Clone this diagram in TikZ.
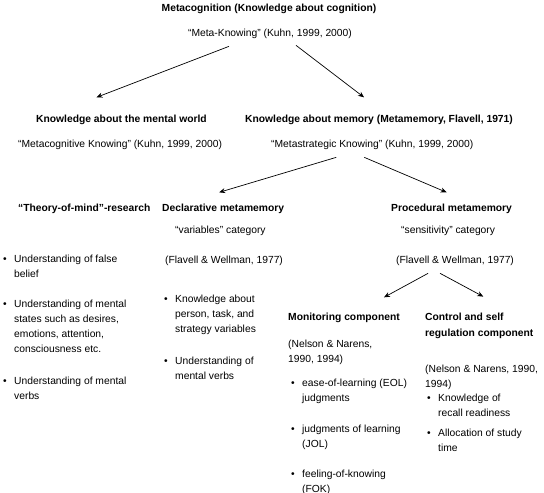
\documentclass[tikz,border=0pt]{standalone}
\usepackage{fontspec}
\setmainfont{Liberation Sans}
\usetikzlibrary{calc,arrows.meta}
\tikzset{
  txt/.style={inner sep=0pt, anchor=base west, font=\fontsize{10.3}{15}\selectfont},
  hd/.style={inner sep=0pt, anchor=base west, font=\fontsize{10.3}{16}\selectfont\bfseries},
  bul/.style={inner sep=0pt, anchor=base, font=\fontsize{10.3}{15}\selectfont},
  arr/.style={-{Stealth[length=6pt,width=5pt]}, line width=0.7pt, black}
}
\newcommand{\mlines}[1]{\begin{tabular}[t]{@{}l@{}}#1\end{tabular}}
\newcommand{\bitem}[4]{%
  \node[bul] (#1b) at (#2-9,#3) {\textbullet};
  \node[txt] (#1) at (#2,#3) {\mlines{#4}};}
\begin{document}
\begin{tikzpicture}[x=1pt,y=-1pt]
\useasboundingbox (0,0) rectangle (544,493);
% top
\node[hd, anchor=base] (top) at (269,11) {Metacognition (Knowledge about cognition)};
\node[txt, anchor=base] (mk) at (270,36) {“Meta-Knowing” (Kuhn, 1999, 2000)};
% level 2
\node[hd] (mw) at (36,122) {Knowledge about the mental world};
\node[txt] (mwk) at (18,147) {“Metacognitive Knowing” (Kuhn, 1999, 2000)};
\node[hd] (mm) at (245,122) {Knowledge about memory (Metamemory, Flavell, 1971)};
\node[txt] (msk) at (271,147) {“Metastrategic Knowing” (Kuhn, 1999, 2000)};
% level 3
\node[hd] (tom) at (18,211) {“Theory-of-mind”-research};
\node[hd] (decl) at (162,211) {Declarative metamemory};
\node[txt] (var) at (175,233) {“variables” category};
\node[txt] (fw1) at (165,263) {(Flavell \& Wellman, 1977)};
\node[hd] (proc) at (391,211) {Procedural metamemory};
\node[txt] (sens) at (401,233) {“sensitivity” category};
\node[txt] (fw2) at (396,263) {(Flavell \& Wellman, 1977)};
% level 4
\node[hd] (mon) at (288,320) {Monitoring component};
\node[hd] (ctrl) at (425,320) {\mlines{Control and self\\regulation component}};
\node[txt] (nn1) at (288,347) {\mlines{(Nelson \& Narens,\\1990, 1994)}};
\node[txt] (nn2) at (425,372) {\mlines{(Nelson \& Narens, 1990,\\1994)}};
% bullets
\bitem{t1}{14}{262}{Understanding of false\\belief}
\bitem{t2}{14}{307}{Understanding of mental\\states such as desires,\\emotions, attention,\\consciousness etc.}
\bitem{t3}{14}{384}{Understanding of mental\\verbs}
\bitem{d1}{175}{302}{Knowledge about\\person, task, and\\strategy variables}
\bitem{d2}{175}{364}{Understanding of\\mental verbs}
\bitem{m1}{302}{386}{ease-of-learning (EOL)\\judgments}
\bitem{m2}{302}{432}{judgments of learning\\(JOL)}
\bitem{m3}{302}{477}{feeling-of-knowing\\(FOK)}
\bitem{c1}{438}{401}{Knowledge of\\recall readiness}
\bitem{c2}{438}{436}{Allocation of study\\time}
% arrows
\draw[arr] ($(mk.south)+(-41,8)$) -- ($(mw.north)+(-25,-17)$);
\draw[arr] ($(mk.south)+(26,7)$) -- ($(mm.north)+(-15,-17)$);
\draw[arr] ($(msk.south)+(-36,8)$) -- ($(decl.north)+(-4,-11)$);
\draw[arr] ($(msk.south)+(-8,8)$) -- ($(proc.north)+(-5,-11)$);
\draw[arr] ($(fw2.south)+(-27,8)$) -- ($(mon.north)+(40,-15)$);
\draw[arr] ($(fw2.south)+(-15,8)$) -- ($(ctrl.north)+(4,-12)$);
\end{tikzpicture}
\end{document}
